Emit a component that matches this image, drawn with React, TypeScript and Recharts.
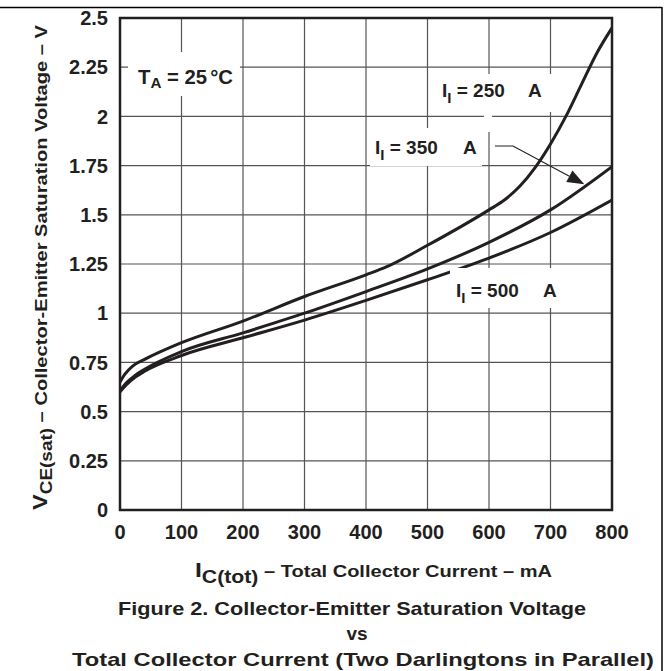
import React from "react";
import { LineChart, Line, XAxis, YAxis, CartesianGrid } from "recharts";

const X_TICKS = [0, 100, 200, 300, 400, 500, 600, 700, 800];
const Y_TICKS = [0, 0.25, 0.5, 0.75, 1, 1.25, 1.5, 1.75, 2, 2.25, 2.5];

const I250 = [
  { x: 0, y: 0.65 }, { x: 8, y: 0.69 }, { x: 20, y: 0.73 }, { x: 40, y: 0.765 },
  { x: 100, y: 0.85 }, { x: 200, y: 0.96 }, { x: 300, y: 1.085 }, { x: 400, y: 1.195 },
  { x: 433, y: 1.235 }, { x: 500, y: 1.345 }, { x: 600, y: 1.525 }, { x: 625, y: 1.575 },
  { x: 650, y: 1.645 }, { x: 675, y: 1.74 }, { x: 700, y: 1.86 }, { x: 725, y: 2.0 },
  { x: 750, y: 2.16 }, { x: 775, y: 2.32 }, { x: 800, y: 2.45 },
];
const I350 = [
  { x: 0, y: 0.605 }, { x: 10, y: 0.645 }, { x: 25, y: 0.685 }, { x: 40, y: 0.715 },
  { x: 100, y: 0.805 }, { x: 200, y: 0.9 }, { x: 300, y: 1.0 }, { x: 400, y: 1.11 },
  { x: 500, y: 1.225 }, { x: 600, y: 1.36 }, { x: 700, y: 1.525 }, { x: 800, y: 1.745 },
];
const I500 = [
  { x: 0, y: 0.6 }, { x: 10, y: 0.635 }, { x: 25, y: 0.675 }, { x: 40, y: 0.705 },
  { x: 100, y: 0.785 }, { x: 200, y: 0.875 }, { x: 300, y: 0.965 }, { x: 400, y: 1.065 },
  { x: 500, y: 1.17 }, { x: 600, y: 1.28 }, { x: 700, y: 1.41 }, { x: 800, y: 1.575 },
];

const W = 665;
const H = 671;
const PL = 120, PT = 18, PR = 612, PB = 510;
const FONT = "'Liberation Sans', Arial, Helvetica, sans-serif";
const INK = "#231f20";

const xs = (v: number) => PL + (v / 800) * (PR - PL);
const ys = (v: number) => PB - (v / 2.5) * (PB - PT);

function Overlay() {
  const tipX = xs(755), tipY = ys(1.655);
  const fromX = 513, fromY = 146;
  const dx = tipX - fromX, dy = tipY - fromY;
  const len = Math.hypot(dx, dy);
  const ux = dx / len, uy = dy / len;
  const aL = 17, aW = 6.5;
  const bx = tipX - ux * aL, by = tipY - uy * aL;
  const arrow = `${tipX},${tipY} ${bx - uy * aW},${by + ux * aW} ${bx + uy * aW},${by - ux * aW}`;
  return (
    <svg width={W} height={H} style={{ position: "absolute", left: 0, top: 0, pointerEvents: "none" }}
      fontFamily={FONT} fontWeight="bold" fill={INK}>
      {/* outer frame */}
      <line x1={0} y1={7.5} x2={662} y2={7.5} stroke="#000" strokeWidth={1.5} />
      <line x1={662} y1={7} x2={662} y2={H} stroke="#000" strokeWidth={1.5} />
      {/* label backgrounds */}
      <rect x={128} y={52} width={112} height={44} fill="#fff" />
      <rect x={436} y={74} width={116} height={38} fill="#fff" />
      <rect x={484} y={110} width={8} height={22} fill="#fff" />
      <rect x={370} y={128} width={112} height={38} fill="#fff" />
      <rect x={450} y={268} width={112} height={40} fill="#fff" />
      {/* plot border */}
      <rect x={PL} y={PT} width={PR - PL} height={PB - PT} fill="none" stroke={INK} strokeWidth={2.5} />
      {/* T_A */}
      <text x={138} y={84} fontSize={20} textLength={95} lengthAdjust="spacingAndGlyphs">T<tspan fontSize={15} dy={4}>A</tspan><tspan dy={-4}> = 25</tspan><tspan dx={3}>°C</tspan></text>
      {/* I = 250 */}
      <text x={442} y={97} fontSize={19}>I<tspan fontSize={15} dy={6}>I</tspan><tspan dy={-6}> = 250</tspan></text>
      <text x={528} y={97} fontSize={19}>A</text>
      {/* I = 350 */}
      <text x={375} y={154} fontSize={19}>I<tspan fontSize={15} dy={6}>I</tspan><tspan dy={-6}> = 350</tspan></text>
      <text x={463} y={154} fontSize={19}>A</text>
      <polyline points={`495,${fromY} ${fromX},${fromY} ${bx},${by}`} fill="none" stroke={INK} strokeWidth={1.2} />
      <polygon points={arrow} fill={INK} />
      {/* I = 500 */}
      <text x={456} y={297} fontSize={19}>I<tspan fontSize={15} dy={6}>I</tspan><tspan dy={-6}> = 500</tspan></text>
      <text x={543} y={297} fontSize={19}>A</text>
      {/* y axis label */}
      <text transform="translate(47,510) rotate(-90)" textAnchor="start" fontSize={17} textLength={485} lengthAdjust="spacingAndGlyphs">
        <tspan fontSize={20}>V</tspan><tspan fontSize={16} dy={5}>CE(sat)</tspan><tspan dy={-5}> – Collector-Emitter Saturation Voltage – V</tspan>
      </text>
      {/* x axis label */}
      <text x={195} y={577} fontSize={17} textLength={357} lengthAdjust="spacingAndGlyphs">
        <tspan fontSize={21}>I</tspan><tspan fontSize={18} dy={6}>C(tot)</tspan><tspan dy={-6}> – Total Collector Current – mA</tspan>
      </text>
      {/* caption */}
      <text x={118} y={615} fontSize={19} textLength={468} lengthAdjust="spacingAndGlyphs">Figure 2. Collector-Emitter Saturation Voltage</text>
      <text x={357} y={640} textAnchor="middle" fontSize={19}>vs</text>
      <text x={72} y={666} fontSize={19} textLength={582} lengthAdjust="spacingAndGlyphs">Total Collector Current (Two Darlingtons in Parallel)</text>
    </svg>
  );
}

export default function App() {
  return (
    <div style={{ position: "fixed", left: 0, top: 0, width: W, height: H, overflow: "hidden", background: "#fff" }}>
      <LineChart width={W} height={H} margin={{ top: PT, right: W - PR, left: PL - 60, bottom: H - PB - 30 }}>
        <CartesianGrid stroke="#555" strokeWidth={1.2} />
        <XAxis type="number" dataKey="x" domain={[0, 800]} ticks={X_TICKS} allowDataOverflow
          axisLine={false} tickLine={false} tickSize={0} tickMargin={15} height={30} interval={0}
          tick={{ fill: INK, fontSize: 20, fontWeight: "bold", fontFamily: FONT }} />
        <YAxis type="number" domain={[0, 2.5]} ticks={Y_TICKS} allowDataOverflow
          axisLine={false} tickLine={false} tickSize={0} tickMargin={12} width={60} interval={0}
          tick={{ fill: INK, fontSize: 20, fontWeight: "bold", fontFamily: FONT }} />
        <Line data={I250} dataKey="y" type="monotone" stroke={INK} strokeWidth={3} dot={false} isAnimationActive={false} />
        <Line data={I350} dataKey="y" type="monotone" stroke={INK} strokeWidth={3} dot={false} isAnimationActive={false} />
        <Line data={I500} dataKey="y" type="monotone" stroke={INK} strokeWidth={3} dot={false} isAnimationActive={false} />
      </LineChart>
      <Overlay />
    </div>
  );
}
